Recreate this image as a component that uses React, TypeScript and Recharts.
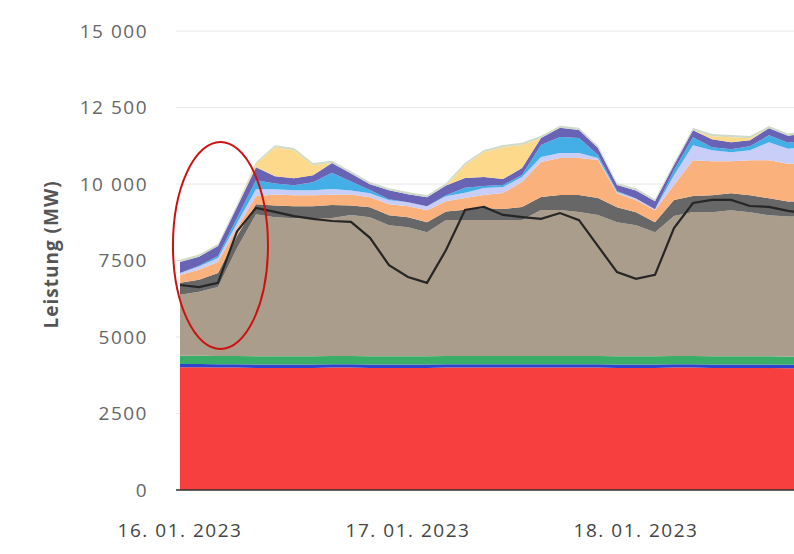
import {
  ComposedChart,
  Area,
  Line,
  XAxis,
  YAxis,
  CartesianGrid,
  ReferenceDot,
} from "recharts";

// hours since 16.01.2023 00:00
const hours = [
  0, 2, 4, 6, 8, 10, 12, 14, 16, 18, 20, 22, 24, 26, 28, 30, 32, 34, 36, 38, 40, 42, 44, 46,
  48, 50, 52, 54, 56, 58, 60, 62, 64, 66,
];

const nuclear = [
  4010, 4010, 4000, 4000, 3990, 3990, 3990, 3990, 4000, 4000, 3990, 3990, 3990, 3990, 4000,
  4000, 4000, 4000, 4000, 4000, 4000, 4000, 4000, 3990, 3990, 3990, 4000, 4000, 3990, 3990,
  3990, 3990, 3980, 3980,
];
const hydroRun = [
  110, 110, 110, 110, 110, 110, 110, 110, 110, 110, 110, 110, 110, 110, 110, 110, 110, 110,
  110, 110, 110, 110, 110, 110, 110, 110, 110, 110, 110, 110, 110, 110, 110, 110,
];
const biomass = [
  270, 270, 270, 270, 270, 270, 270, 270, 270, 270, 270, 270, 270, 270, 270, 270, 270, 270,
  270, 270, 270, 270, 270, 270, 270, 270, 270, 270, 270, 270, 270, 270, 270, 270,
];
const coal = [
  1990, 2090, 2250, 3530, 4640, 4540, 4510, 4510, 4510, 4610, 4540, 4280, 4215, 4050, 4445,
  4445, 4445, 4445, 4445, 4770, 4770, 4705, 4610, 4380, 4280, 4050, 4575, 4705, 4705, 4770,
  4705, 4610, 4575, 4575,
];
const gas = [
  390, 390, 460, 390, 330, 390, 390, 390, 425, 310, 330, 330, 330, 330, 280, 330, 390, 360,
  425, 425, 490, 555, 555, 490, 425, 330, 520, 520, 555, 555, 555, 555, 490, 490,
];
const pumped = [
  260, 330, 360, 260, 260, 360, 360, 360, 330, 360, 330, 360, 360, 390, 330, 390, 425, 520,
  815, 1145, 1210, 1210, 1240, 460, 390, 390, 490, 1175, 1110, 1045, 1145, 1240, 1240, 1240,
];
const reservoir = [
  65, 100, 130, 165, 230, 165, 165, 165, 195, 130, 130, 130, 130, 130, 165, 165, 230, 195,
  165, 165, 165, 165, 65, 35, 65, 35, 325, 490, 360, 295, 325, 590, 490, 525,
];
const wind = [
  0, 30, 65, 165, 295, 195, 165, 260, 525, 295, 100, 30, 0, 0, 30, 165, 65, 65, 65, 390, 525,
  490, 100, 35, 0, 0, 165, 260, 100, 100, 130, 230, 195, 230,
];
const hydro = [
  360, 295, 325, 360, 425, 230, 230, 230, 325, 260, 195, 295, 260, 295, 325, 325, 295, 195,
  230, 230, 295, 260, 230, 195, 260, 260, 165, 230, 260, 230, 200, 230, 230, 230,
];
const solar = [
  0, 0, 0, 0, 100, 950, 915, 330, 0, 0, 0, 0, 0, 0, 0, 425, 815, 1045, 750, 0, 0, 0, 0, 0, 0,
  0, 0, 0, 100, 165, 65, 0, 0, 0,
];
const other = [
  70, 70, 70, 70, 70, 70, 70, 70, 70, 70, 70, 70, 70, 70, 70, 70, 70, 70, 70, 70, 70, 70, 70,
  70, 70, 70, 70, 70, 70, 70, 70, 70, 70, 70,
];
const load = [
  6700, 6630, 6770, 8450, 9220, 9090, 8950, 8860, 8790, 8760, 8240, 7350, 6960, 6770, 7840,
  9150, 9250, 8990, 8920, 8860, 9050, 8820, 7970, 7120, 6900, 7030, 8560, 9380, 9480, 9480,
  9280, 9250, 9120, 9050,
];

const dayTicks = [0, 24, 48];
const dayLabels = ["16. 01. 2023", "17. 01. 2023", "18. 01. 2023"];
const yTicks = [0, 2500, 5000, 7500, 10000, 12500, 15000];
const yTickLabels = ["0", "2500", "5000", "7500", "10 000", "12 500", "15 000"];

// highlighted region (hour, MW)
const markHour = 4.26;
const markValue = 7990;

const series = [
  { key: "nuclear", values: nuclear, color: "#f83f3f" },
  { key: "hydroRun", values: hydroRun, color: "#2f43cf" },
  { key: "biomass", values: biomass, color: "#3aae68" },
  { key: "coal", values: coal, color: "#ab9d8b" },
  { key: "gas", values: gas, color: "#676767" },
  { key: "pumped", values: pumped, color: "#fbb17b" },
  { key: "reservoir", values: reservoir, color: "#c8cef8" },
  { key: "wind", values: wind, color: "#43afe6" },
  { key: "hydro", values: hydro, color: "#6963b6" },
  { key: "solar", values: solar, color: "#fdd98c" },
  { key: "other", values: other, color: "#cfdac8" },
];

const rows = hours.map((h, i) => {
  const row: Record<string, number> = { h, load: load[i] };
  series.forEach((s) => {
    row[s.key] = s.values[i];
  });
  return row;
});

const font = '"Open Sans", sans-serif';

export default function App() {
  return (
    <div
      style={{
        position: "fixed",
        left: 0,
        top: 0,
        width: 794,
        height: 554,
        overflow: "hidden",
        background: "#fff",
      }}
    >
      <ComposedChart
        width={845}
        height={554}
        data={rows}
        margin={{ top: 31, right: 0, bottom: 34, left: 0 }}
      >
        <CartesianGrid vertical={false} stroke="#e6e6e6" />
        <XAxis
          dataKey="h"
          type="number"
          domain={[0, 70]}
          ticks={dayTicks}
          tickFormatter={(v: number) => dayLabels[dayTicks.indexOf(v)]}
          padding={{ left: 4, right: 0 }}
          axisLine={{ stroke: "#333", strokeWidth: 1.5 }}
          tickLine={false}
          tickMargin={28}
          tick={{ fontSize: 19, fill: "#444", fontFamily: font, letterSpacing: 1.5 }}
        />
        <YAxis
          width={176}
          domain={[0, 15000]}
          ticks={yTicks}
          tickFormatter={(v: number) => yTickLabels[yTicks.indexOf(v)]}
          axisLine={false}
          tickLine={false}
          tickMargin={22}
          tick={{ fontSize: 19, fill: "#666", fontFamily: font, letterSpacing: 1.5 }}
          label={{
            value: "Leistung (MW)",
            angle: -90,
            position: "insideLeft",
            offset: 51,
            dy: 68,
            style: {
              fontSize: 19,
              fontWeight: 700,
              fill: "#555",
              fontFamily: font,
              letterSpacing: 1,
            },
          }}
        />
        {series.map((s) => (
          <Area
            key={s.key}
            dataKey={s.key}
            stackId="1"
            type="linear"
            fill={s.color}
            fillOpacity={1}
            stroke="none"
            activeDot={false}
            isAnimationActive={false}
          />
        ))}
        <Line
          dataKey="load"
          type="linear"
          stroke="#262626"
          strokeWidth={2.2}
          dot={false}
          activeDot={false}
          isAnimationActive={false}
        />
        <ReferenceDot
          x={markHour}
          y={markValue}
          r={0}
          ifOverflow="visible"
          shape={(p: any) => (
            <ellipse
              cx={p.cx}
              cy={p.cy}
              rx={47.5}
              ry={103.5}
              fill="none"
              stroke="#cc1111"
              strokeWidth={2}
            />
          )}
        />
      </ComposedChart>
    </div>
  );
}
